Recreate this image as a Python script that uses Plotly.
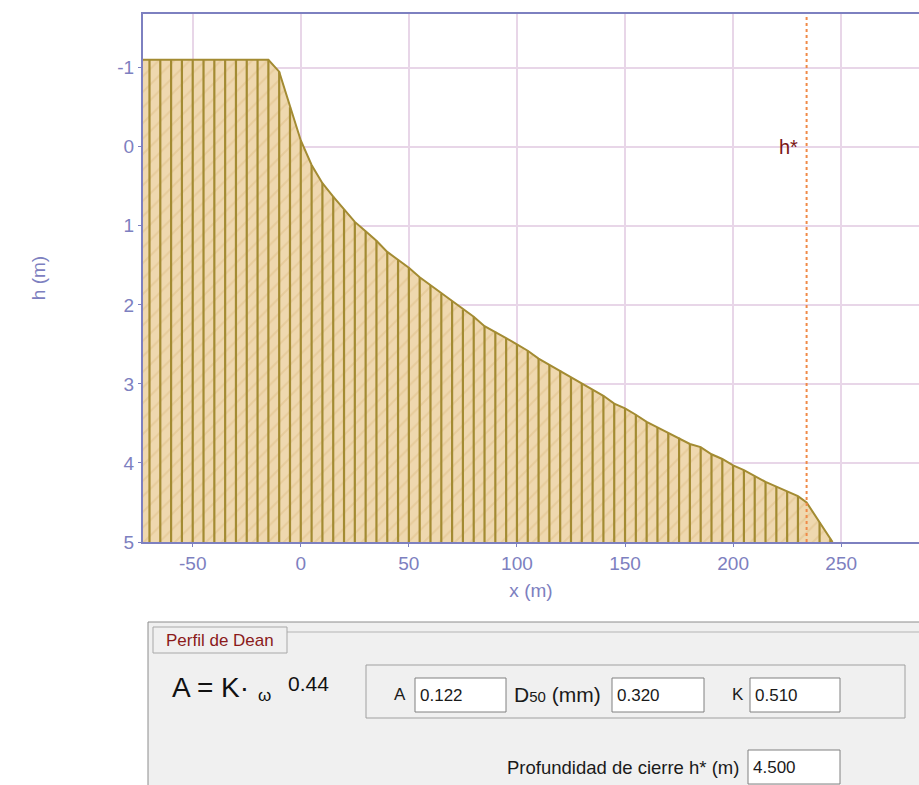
import plotly.graph_objects as go

# Dean profile (x in m, h in m, positive downward)
profile_x = [-73, -70, -65, -60, -55, -50, -45, -40, -35, -30, -25, -20, -15,
             -10, -5, 0, 5, 10, 15, 20, 25, 30, 35, 40, 45, 50, 55, 60, 65, 70,
             75, 80, 85, 90, 95, 100, 105, 110, 115, 120, 125, 130, 135, 140,
             145, 150, 155, 160, 165, 170, 175, 180, 185, 190, 195, 200, 205,
             210, 215, 220, 225, 230, 234, 240, 245, 246]
profile_h = [-1.1, -1.1, -1.1, -1.1, -1.1, -1.1, -1.1, -1.1, -1.1, -1.1, -1.1, -1.1, -1.1,
             -0.95, -0.50, -0.08, 0.23, 0.46, 0.63, 0.79, 0.95, 1.07, 1.19, 1.33, 1.43,
             1.53, 1.65, 1.75, 1.86, 1.95, 2.06, 2.15, 2.27, 2.34, 2.42, 2.50, 2.58,
             2.68, 2.76, 2.83, 2.92, 3.00, 3.08, 3.15, 3.25, 3.31, 3.39, 3.48, 3.55,
             3.62, 3.68, 3.76, 3.80, 3.89, 3.95, 4.03, 4.09, 4.17, 4.24, 4.30, 4.36,
             4.42, 4.50, 4.75, 4.96, 5.0]
h_bottom = 5.0
x_closure = 234            # position of h* line
h_star = 4.5

x_ticks = [-50, 0, 50, 100, 150, 200, 250]
x_labels = ["-50", "0", "50", "100", "150", "200", "250"]
y_ticks = [-1, 0, 1, 2, 3, 4, 5]
y_labels = ["-1", "0", "1", "2", "3", "4", "5"]

# dialog values under the chart
A_val = "0.122"
D50_val = "0.320"
K_val = "0.510"
hstar_val = "4.500"

AXIS = "#7D80C0"
GRID = "#E8D6E8"
EDGE = "#A38B32"
SAND = "#EFD8AF"
FONT = "Arial, Liberation Sans, sans-serif"

fig = go.Figure()

# sand body with faint diagonal hatch
fig.add_trace(go.Scatter(
    x=profile_x + [profile_x[-1], profile_x[0]],
    y=profile_h + [h_bottom, h_bottom],
    mode="lines", fill="toself", line=dict(width=0),
    fillcolor=SAND,
    fillpattern=dict(shape="/", bgcolor=SAND, fgcolor="#DFBF88",
                     size=11, solidity=0.18),
    hoverinfo="skip", showlegend=False))

# vertical stems every 5 m
sx, sy = [], []
for xv, hv in zip(profile_x, profile_h):
    if xv % 5 == 0:
        sx += [xv, xv, None]
        sy += [hv, h_bottom, None]
fig.add_trace(go.Scatter(x=sx, y=sy, mode="lines",
                         line=dict(color=EDGE, width=2.2),
                         hoverinfo="skip", showlegend=False))

# profile outline
fig.add_trace(go.Scatter(x=profile_x, y=profile_h, mode="lines",
                         line=dict(color=EDGE, width=2),
                         showlegend=False))

# closure depth line
fig.add_shape(type="line", x0=x_closure, x1=x_closure, y0=0, y1=1,
              xref="x", yref="paper",
              line=dict(color="#F08A48", width=2, dash="dot"))
fig.add_annotation(x=x_closure, y=0, xref="x", yref="y", text="h*",
                   showarrow=False, xanchor="right", xshift=-7,
                   font=dict(color="#7A1414", size=20, family=FONT))

# ---- dialog panel below the chart (pixel -> paper helpers) ----
L, R, T, B = 143, 919, 14, 542


def px(v):
    return (v - L) / (R - L)


def py(v):
    return (B - v) / (B - T)


def rect(x0, y0, x1, y1, fill, line, w=1):
    fig.add_shape(type="rect", xref="paper", yref="paper",
                  x0=px(x0), x1=px(x1), y0=py(y0), y1=py(y1),
                  fillcolor=fill, line=dict(color=line, width=w), layer="above")


def label(x, y, text, size=14, color="#1A1A1A", anchor="left"):
    fig.add_annotation(x=px(x), y=py(y), xref="paper", yref="paper",
                       text=text, showarrow=False, xanchor=anchor,
                       yanchor="middle",
                       font=dict(size=size, color=color, family=FONT))


rect(148, 622, 935, 800, "#F0F0F0", "#8C8C8C")
fig.add_shape(type="line", xref="paper", yref="paper",
              x0=px(287), x1=px(935), y0=py(632), y1=py(632),
              line=dict(color="#B4B4B4", width=1), layer="above")
rect(153, 627, 287, 653, "#F0F0F0", "#A8A8A8")
label(220, 640, "Perfil de Dean", 17, "#8B1A1A", "center")

label(170, 688, "A = K·", 28, "#111111")
label(256, 695, "ω", 17, "#111111")
label(286, 683, "0.44", 21, "#111111")

rect(366, 665, 905, 718, "#F0F0F0", "#A0A0A0")
label(392, 694, "A", 17)
rect(415, 678, 506, 712, "white", "#808080")
label(418, 695, A_val, 17)
label(512, 694, 'D<span style="font-size:15px">50</span> (mm)', 21)
rect(612, 678, 704, 712, "white", "#808080")
label(615, 695, D50_val, 17)
label(746, 694, "K", 17, anchor="right")
rect(750, 678, 840, 712, "white", "#808080")
label(753, 695, K_val, 17)

label(741, 767, "Profundidad de cierre h* (m)", 18.5, anchor="right")
rect(748, 750, 840, 784, "white", "#808080")
label(751, 767, hstar_val, 17)

fig.update_xaxes(
    range=[-73, 286], tickvals=x_ticks, ticktext=x_labels, showgrid=True,
    gridcolor=GRID, gridwidth=1.5, zeroline=False, showline=True,
    linecolor=AXIS, linewidth=2, mirror=True, ticks="outside", ticklen=3,
    tickcolor=AXIS, tickfont=dict(color=AXIS, size=19, family=FONT),
    title=dict(text="x (m)", font=dict(color=AXIS, size=19, family=FONT),
               standoff=11))
fig.update_yaxes(
    range=[5, -1.68], tickvals=y_ticks, ticktext=y_labels, showgrid=True,
    gridcolor=GRID, gridwidth=1.5, zeroline=False, showline=True,
    linecolor=AXIS, linewidth=2, ticks="outside", ticklen=3, tickcolor=AXIS,
    tickfont=dict(color=AXIS, size=19, family=FONT),
    title=dict(text="h (m)", font=dict(color=AXIS, size=19, family=FONT),
               standoff=67))

fig.update_layout(
    width=919, height=785,
    margin=dict(l=L, r=0, t=T, b=785 - B, autoexpand=False),
    plot_bgcolor="white", paper_bgcolor="white",
    showlegend=False)

# page body margin would shift the figure; drop it
fig.write_html("out.html", config={"displayModeBar": False},
               post_script="document.body.style.margin='0';"
                           "document.body.style.overflow='hidden';")
